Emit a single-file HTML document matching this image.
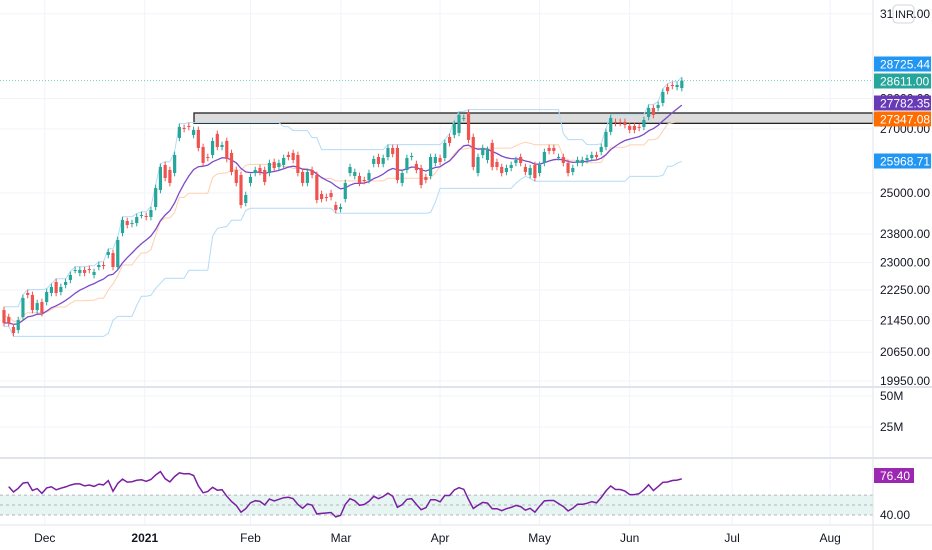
<!DOCTYPE html>
<html><head><meta charset="utf-8"><style>
html,body{margin:0;padding:0;background:#fff;}
svg{display:block;font-family:"Liberation Sans",sans-serif;}
</style></head><body>
<svg id="chart" width="932" height="550" viewBox="0 0 932 550" xmlns="http://www.w3.org/2000/svg">
<rect x="0" y="0" width="932" height="550" fill="#fff"/>
<g id="grid"></g>
<g id="ind"></g>
<g id="candles"></g>
<g id="rsi"></g>
<g id="axes"></g>
</svg>
<script>
const opens=[21723,21542,21285,21208,21542,22173,22120,21723,21933,21933,22173,22467,22199,22387,22521,22793,22712,22793,22820,22657,22875,22930,23207,23262,22875,23826,24173,24086,24115,24349,24320,24290,24583,25090,25855,25700,25607,26708,27031,27096,26805,26966,26420,26104,26168,26838,26420,26612,26231,25700,25546,24702,25303,25607,25762,25700,25607,25949,25793,25855,26168,26231,26168,25639,25303,25700,25546,24970,24880,25000,24643,24524,24820,25607,25516,25516,25393,25393,25887,26104,25887,26104,26389,26389,25303,25700,26104,25887,25762,25485,25516,25918,26073,26073,26740,26805,26870,27357,27522,26740,25607,26168,26011,26548,25949,25793,25639,25762,25918,26104,25793,25546,25855,25607,25918,26389,26389,26104,26104,25918,25639,25918,25918,26011,26073,26168,26262,26420,26902,27225,27225,27225,27096,27096,27063,27063,27390,27687,27687,27853,28392,28461,28392,28358];
const closes=[21387,21387,21132,21464,22038,22120,21723,21906,21645,22199,22334,22173,22334,22467,22657,22793,22793,22712,22793,22739,22930,22902,23290,22875,23628,24202,24057,24115,24290,24349,24290,24495,25150,25793,25454,25303,26168,27063,26998,27063,26966,26389,25918,26073,26612,26420,26483,26042,25639,25303,24643,24940,25485,25700,25639,25333,25918,25762,25918,26073,26104,26011,25607,25303,25639,25546,24790,24820,24850,24880,24495,24583,25303,25793,25639,25303,25363,25607,26042,25887,26073,26389,26199,25393,25607,26073,26136,25700,25240,25393,26104,26104,25949,26548,26548,27162,27456,27357,26644,25793,26104,26389,26326,25793,25793,25607,25762,25855,26011,25918,25639,25762,25454,25855,26262,26294,26294,26104,25918,25607,25762,26011,26011,26073,26168,26104,26420,26902,27357,27193,27193,27127,26966,26966,27031,27291,27687,27456,27787,28222,28256,28427,28461,28611];
const priceTicks=[31000,28000,27000,25000,23800,23000,22250,21450,20650,19950];
const dateLabels=["Dec","2021","Feb","Mar","Apr","May","Jun","Jul","Aug"];
const dateIdx=[8.6,29.7,52,71.1,92,113,132,153.6,174.3];
const zoneTop=[27520];
const zoneBottom=[27180];
const volTicks=["50M","25M"];

const NS="http://www.w3.org/2000/svg";
function mk(tag,attrs,parent){const e=document.createElementNS(NS,tag);for(const k in attrs)e.setAttribute(k,attrs[k]);parent.appendChild(e);return e;}
const X=i=>4+i*4.74;
const Y=p=>193-833*Math.log(p/25000);
const RY=r=>515-(r-40)*0.9955;
const PR=873;
const grid=document.getElementById('grid'),ind=document.getElementById('ind'),cg=document.getElementById('candles'),rg=document.getElementById('rsi'),ax=document.getElementById('axes');

priceTicks.forEach(p=>{const l=mk('line',{x1:0,x2:PR,y1:Y(p),y2:Y(p),stroke:'#f0f3fa','stroke-width':1},grid);

});
dateIdx.forEach(d=>{const l=mk('line',{x1:X(d),x2:X(d),y1:0,y2:525,stroke:'#f0f3fa','stroke-width':1},grid);

});
[396,427].forEach(y=>{mk('line',{x1:0,x2:PR,y1:y,y2:y,stroke:'#f0f3fa'},grid);});

const z=mk('rect',{x:194,y:Y(zoneTop[0]),width:PR-194,height:Y(zoneBottom[0])-Y(zoneTop[0]),fill:'#dcdcdc',stroke:'#222','stroke-width':1.3},ind);



const n=closes.length;const highs=[],lows=[];
for(let i=0;i<n;i++){highs.push(Math.max(opens[i],closes[i])*1.004);lows.push(Math.min(opens[i],closes[i])*0.996);}
const up=[],lo=[],mid=[],ema=[];let e=closes[0];
for(let i=0;i<n;i++){let h=-1,l=1e9;for(let j=Math.max(0,i-19);j<=i;j++){h=Math.max(h,highs[j]);l=Math.min(l,lows[j]);}
up.push(h);lo.push(l);mid.push((h+l)/2);e=i?e+(closes[i]-e)*2/15:closes[0];ema.push(e);}
function line(arr,col,name,w){let d='';arr.forEach((v,i)=>{d+=(i?'L':'M')+X(i).toFixed(1)+','+Y(v).toFixed(1);});
const p=mk('path',{d:d,fill:'none',stroke:col,'stroke-width':w},ind);

}
line(up,'#b3dcf7','donchian-upper',1);line(lo,'#b3dcf7','donchian-lower',1);
line(mid,'#ffcfb0','donchian-basis',1);line(ema,'#7e49c9','moving-average',1.3);
const lp=mk('line',{x1:0,x2:PR,y1:Y(closes[n-1]),y2:Y(closes[n-1]),stroke:'#26a69a','stroke-width':1,'stroke-dasharray':'1 2',opacity:0.6},ind);



for(let i=0;i<n;i++){const g=closes[i]>=opens[i];const c=g?'#26a69a':'#ef5350';const x=X(i);
const w=mk('line',{x1:x,x2:x,y1:Y(highs[i]),y2:Y(lows[i]),stroke:c,'stroke-width':1},cg);


const t=Math.min(Y(opens[i]),Y(closes[i])),b=Math.max(Y(opens[i]),Y(closes[i]));
const r=mk('rect',{x:x-1.6,y:t,width:3.2,height:Math.max(1,b-t),fill:c},cg);

}

mk('rect',{x:0,y:RY(60),width:PR,height:RY(40)-RY(60),fill:'#e6f4f2'},rg);
[60,50,40].forEach(v=>{mk('line',{x1:0,x2:PR,y1:RY(v),y2:RY(v),stroke:'#b2b5be','stroke-dasharray':'3 3'},rg);});
const rsi=[];let ag=0,al=0;
for(let i=1;i<=14;i++){const ch=closes[i]-closes[i-1];ag+=Math.max(ch,0)/14;al+=Math.max(-ch,0)/14;}
for(let i=1;i<n;i++){const ch=closes[i]-closes[i-1];const gg=Math.max(ch,0),ll=Math.max(-ch,0);
ag=(ag*13+gg)/14;al=(al*13+ll)/14;rsi.push([i,al===0?100:100-100/(1+ag/al)]);}
let rd='';rsi.forEach((p,j)=>{rd+=(j?'L':'M')+X(p[0]).toFixed(1)+','+Math.max(459,Math.min(525,RY(p[1]))).toFixed(1);});
const rp=mk('path',{d:rd,fill:'none',stroke:'#7b1fa2','stroke-width':1.5},rg);



[387,458].forEach(y=>{mk('rect',{x:0,y:y-1,width:932,height:2,fill:'#e0e3eb'},ax);});
mk('line',{x1:0,x2:932,y1:525,y2:525,stroke:'#e0e3eb'},ax);
mk('line',{x1:PR,x2:PR,y1:0,y2:550,stroke:'#e0e3eb'},ax);
function txt(s,x,y,attrs,name){const t=mk('text',Object.assign({x:x,y:y,'font-size':12,fill:'#131722'},attrs||{}),ax);t.textContent=s;

return t;}
priceTicks.forEach(p=>{txt(p.toFixed(2),880,Y(p)+4,{},'price-tick-label');});
volTicks.forEach((v,i)=>{txt(v,880,[400,431][i],{},'volume-tick-label');});
txt('40.00',880,519,{},'rsi-tick-label');
dateLabels.forEach((d,i)=>{txt(d,X(dateIdx[i]),542,{'text-anchor':'middle','font-weight':d==='2021'?'bold':'normal'},'date-label');});
const inr=mk('rect',{x:893,y:5,width:21,height:18,rx:4,fill:'#fff',stroke:'#d1d4dc'},ax);


txt('INR',895,18,{'font-size':11},'currency-label');
function badge(v,y,col,name){const r=mk('rect',{x:PR+1,y:y-7.5,width:57,height:15,fill:col},ax);


txt(v,880,y+4.3,{fill:'#fff'},name+'-text');}
badge(up[n-1].toFixed(2),64,'#2196f3','donchian-upper-badge');
badge(closes[n-1].toFixed(2),81,'#26a69a','last-price-badge');
badge(ema[n-1].toFixed(2),103,'#673ab7','ma-badge');
badge(mid[n-1].toFixed(2),119,'#ff6d00','donchian-basis-badge');
badge(lo[n-1].toFixed(2),161,'#2196f3','donchian-lower-badge');
const rl=rsi[rsi.length-1][1];
const rb=mk('rect',{x:PR+1,y:468,width:40,height:15,fill:'#9c27b0'},ax);


txt(rl.toFixed(2),880,480,{fill:'#fff'},'rsi-value');
</script>
</body></html>
